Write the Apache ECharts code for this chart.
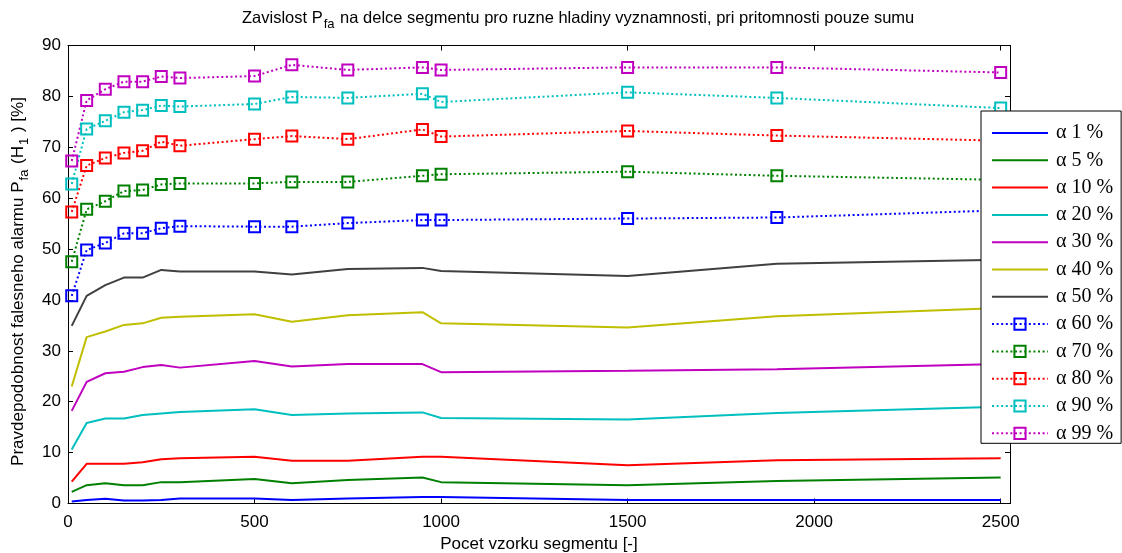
<!DOCTYPE html>
<html>
<head>
<meta charset="utf-8">
<script src="https://cdn.jsdelivr.net/npm/echarts@6/dist/echarts.min.js"></script>
<style>
  html, body { margin: 0; padding: 0; background: #fff; }
  #chart { width: 1122px; height: 553px; }
</style>
</head>
<body>
<div id="chart"></div>
<script>
// Segment length (number of samples)
const segmentLengths = [10, 50, 100, 150, 200, 250, 300, 500, 600, 750, 950, 1000, 1500, 1900, 2500];

// False alarm probability [%] for each significance level
const alpha1  = [0.4, 0.7, 0.95, 0.6, 0.6, 0.7, 1.0, 1.0, 0.7, 1.0, 1.3, 1.3, 0.7, 0.7, 0.7];
const alpha5  = [2.3, 3.6, 4.0, 3.6, 3.6, 4.2, 4.2, 4.8, 4.0, 4.6, 5.1, 4.2, 3.6, 4.4, 5.1];
const alpha10 = [4.3, 7.8, 7.8, 7.8, 8.1, 8.7, 8.9, 9.2, 8.4, 8.4, 9.2, 9.2, 7.5, 8.5, 8.9];
const alpha20 = [10.6, 15.8, 16.7, 16.7, 17.4, 17.7, 18.0, 18.5, 17.4, 17.7, 17.9, 16.8, 16.5, 17.8, 19.0];
const alpha30 = [18.2, 23.9, 25.6, 25.9, 26.8, 27.2, 26.7, 28.0, 26.9, 27.4, 27.4, 25.8, 26.1, 26.4, 27.4];
const alpha40 = [23.0, 32.7, 33.8, 35.1, 35.4, 36.5, 36.7, 37.2, 35.7, 37.0, 37.6, 35.4, 34.6, 36.8, 38.4];
const alpha50 = [34.9, 40.8, 42.9, 44.4, 44.4, 45.9, 45.6, 45.6, 45.0, 46.1, 46.3, 45.7, 44.7, 47.1, 47.9];
const alpha60 = [40.8, 49.8, 51.2, 53.1, 53.1, 54.1, 54.5, 54.4, 54.4, 55.1, 55.7, 55.7, 56.0, 56.2, 57.6];
const alpha70 = [47.5, 57.8, 59.4, 61.4, 61.6, 62.7, 62.9, 62.9, 63.2, 63.2, 64.4, 64.7, 65.2, 64.4, 63.6];
const alpha80 = [57.3, 66.4, 67.9, 68.9, 69.3, 71.1, 70.3, 71.6, 72.2, 71.6, 73.5, 72.1, 73.2, 72.3, 71.3];
const alpha90 = [62.8, 73.6, 75.2, 76.9, 77.3, 78.2, 78.0, 78.5, 79.9, 79.7, 80.5, 78.9, 80.8, 79.7, 77.7];
const alpha99 = [67.3, 79.2, 81.4, 82.9, 82.9, 83.9, 83.6, 84.0, 86.2, 85.2, 85.7, 85.2, 85.7, 85.7, 84.7];

const seriesNames = ['α 1 %', 'α 5 %', 'α 10 %', 'α 20 %', 'α 30 %', 'α 40 %', 'α 50 %',
                     'α 60 %', 'α 70 %', 'α 80 %', 'α 90 %', 'α 99 %'];
const seriesValues = [alpha1, alpha5, alpha10, alpha20, alpha30, alpha40, alpha50,
                      alpha60, alpha70, alpha80, alpha90, alpha99];
const seriesColors = ['#0000ff', '#008000', '#ff0000', '#00bfbf', '#bf00bf', '#bfbf00', '#404040',
                      '#0000ff', '#008000', '#ff0000', '#00bfbf', '#bf00bf'];
const dottedFrom = 7; // series from this index on are dotted with square markers

const xTicks = [0, 500, 1000, 1500, 2000, 2500];

// legend key for a solid line: a 2px bar, padded so the path keeps its box
const solidKey = 'path://M0,0L0.01,0L0,0.01Z M56,14L55.99,14L56,13.99Z M0,6L56,6L56,8L0,8Z';

const series = seriesNames.map((name, i) => {
  const dotted = i >= dottedFrom;
  return {
    name: name,
    type: 'line',
    data: segmentLengths.map((x, k) => [x, seriesValues[i][k]]),
    symbol: dotted ? 'rect' : 'none',
    symbolSize: 11,
    showSymbol: dotted,
    animation: false,
    lineStyle: { color: seriesColors[i], width: 2, type: dotted ? [2, 2.6] : 'solid' },
    itemStyle: dotted
      ? { color: 'rgba(255,255,255,0)', borderColor: seriesColors[i], borderWidth: 2 }
      : { color: seriesColors[i] },
    emphasis: { disabled: true }
  };
});

const legendData = seriesNames.map((name, i) => (
  i >= dottedFrom
    ? { name: name }
    : { name: name, icon: solidKey, itemStyle: { color: seriesColors[i], borderWidth: 0 } }
));

const sansFont = '"Liberation Sans", Arial, sans-serif';
const chart = echarts.init(document.getElementById('chart'), null, { renderer: 'canvas' });

chart.setOption({
  backgroundColor: '#ffffff',
  animation: false,
  title: {
    text: '{n|Zavislost P}{s|fa}{n| na delce segmentu pro ruzne hladiny vyznamnosti, pri pritomnosti pouze sumu}',
    left: 237,
    top: 1,
    textStyle: {
      rich: {
        n: { fontFamily: sansFont, fontSize: 16.5, fontWeight: 'normal', color: '#000' },
        s: { fontFamily: sansFont, fontSize: 13, fontWeight: 'normal', color: '#000', padding: [12, 1, 0, 1] }
      }
    }
  },
  grid: { left: 68, right: 112, top: 45.5, bottom: 49.5, containLabel: false, outerBoundsMode: 'none' },
  legend: {
    orient: 'vertical',
    left: 981,
    top: 111,
    backgroundColor: '#ffffff',
    borderColor: '#000000',
    borderWidth: 1,
    borderRadius: 0,
    padding: [12, 8, 0, 10],
    itemWidth: 56,
    itemHeight: 14,
    itemGap: 7.3,
    selectedMode: false,
    data: legendData,
    textStyle: {
      fontFamily: '"Liberation Serif", "Times New Roman", serif',
      fontSize: 20, color: '#000', padding: [0, 0, 0, 3]
    }
  },
  xAxis: [{
    type: 'value',
    min: 0,
    max: 2525,
    interval: 500,
    position: 'bottom',
    name: 'Pocet vzorku segmentu [-]',
    nameLocation: 'middle',
    nameGap: 32,
    nameTextStyle: { fontFamily: sansFont, fontSize: 17, color: '#000' },
    axisLine: { onZero: false, lineStyle: { color: '#000', width: 1 } },
    axisTick: { inside: true, length: 5, lineStyle: { color: '#000' } },
    axisLabel: {
      margin: 10,
      fontFamily: sansFont, fontSize: 17, color: '#000',
      formatter: v => (xTicks.indexOf(v) >= 0 ? String(v) : '')
    },
    splitLine: { show: false }
  }, {
    type: 'value',
    min: 0,
    max: 2525,
    interval: 500,
    position: 'top',
    axisLine: { onZero: false, lineStyle: { color: '#000', width: 1 } },
    axisTick: { inside: true, length: 5, lineStyle: { color: '#000' } },
    axisLabel: { show: false },
    splitLine: { show: false }
  }],
  yAxis: [{
    type: 'value',
    min: 0,
    max: 90,
    interval: 10,
    position: 'left',
    name: '{n|Pravdepodobnost falesneho alarmu P}{s|fa}{n| (H}{s|1}{n| ) [%]}',
    nameLocation: 'middle',
    nameGap: 36,
    nameTextStyle: {
      padding: [0, 14, 0, 0],
      rich: {
        n: { fontFamily: sansFont, fontSize: 17, color: '#000' },
        s: { fontFamily: sansFont, fontSize: 13, color: '#000', padding: [12, 1, 0, 1] }
      }
    },
    axisLine: { onZero: false, lineStyle: { color: '#000', width: 1 } },
    axisTick: { inside: true, length: 5, lineStyle: { color: '#000' } },
    axisLabel: { margin: 7, fontFamily: sansFont, fontSize: 17, color: '#000' },
    splitLine: { show: false }
  }, {
    type: 'value',
    min: 0,
    max: 90,
    interval: 10,
    position: 'right',
    axisLine: { onZero: false, lineStyle: { color: '#000', width: 1 } },
    axisTick: { inside: true, length: 5, lineStyle: { color: '#000' } },
    axisLabel: { show: false },
    splitLine: { show: false }
  }],
  series: series
});
</script>
</body>
</html>
